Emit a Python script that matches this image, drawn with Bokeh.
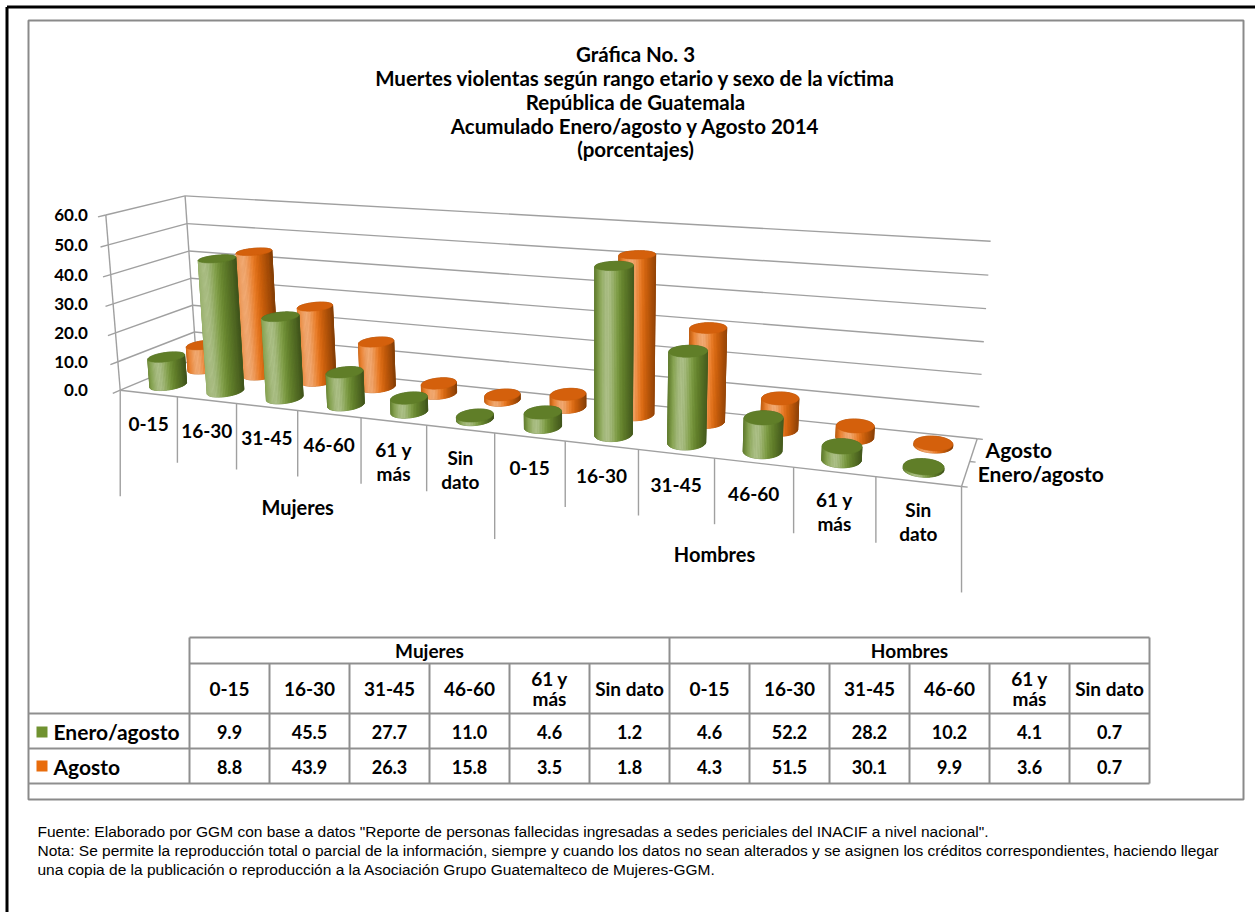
import numpy as np
from bokeh.plotting import figure
from bokeh.models import Range1d, ColumnDataSource
from bokeh.core.properties import value
from bokeh.embed import file_html
from bokeh.resources import INLINE

# ---------------------------------------------------------------- data
groups = ["Mujeres", "Hombres"]
age_ranges = ["0-15", "16-30", "31-45", "46-60", "61 y más", "Sin dato"]
axis_age_labels = [["0-15"], ["16-30"], ["31-45"], ["46-60"], ["61 y", "más"], ["Sin", "dato"]]
table_age_labels = [["0-15"], ["16-30"], ["31-45"], ["46-60"], ["61 y", "más"], ["Sin dato"]]
series_names = ["Enero/agosto", "Agosto"]
enero_agosto = [9.9, 45.5, 27.7, 11.0, 4.6, 1.2, 4.6, 52.2, 28.2, 10.2, 4.1, 0.7]
agosto = [8.8, 43.9, 26.3, 15.8, 3.5, 1.8, 4.3, 51.5, 30.1, 9.9, 3.6, 0.7]
value_ticks = [0, 10, 20, 30, 40, 50, 60]
value_tick_labels = ["0.0", "10.0", "20.0", "30.0", "40.0", "50.0", "60.0"]
title_lines = [
    "Gráfica No. 3",
    "Muertes violentas según rango etario y sexo de la víctima",
    "República de Guatemala",
    "Acumulado Enero/agosto y Agosto 2014",
    "(porcentajes)",
]
footer_lines = [
    'Fuente: Elaborado por GGM con base a datos "Reporte de personas fallecidas ingresadas a sedes periciales del INACIF a nivel nacional".',
    "Nota: Se permite la reproducción total o parcial de la información, siempre y cuando los datos no sean alterados y se asignen los créditos correspondientes, haciendo llegar",
    "una copia de la publicación o reproducción a la Asociación Grupo Guatemalteco de Mujeres-GGM.",
]

# ---------------------------------------------------------------- style
W, H = 1255, 912
FONT = value("Lato")
GREEN = (112, 146, 48)
ORANGE = (232, 108, 12)
GREEN_TOP = (96, 126, 40)
ORANGE_TOP = (212, 96, 12)
GRID = "#a0a0a0"
TABLE_LINE = "#8f8f8f"

n_cat = len(enero_agosto)
v_max = value_ticks[-1]

# ---------------------------------------------------------------- 3-D box
# page pixels of the reference points of the box:
# (category position, value, depth 0=front..1=back)
box_refs = [
    ((0, 0, 0), (120, 389)),
    ((0, v_max, 0), (105, 214)),
    ((0, 0, 1), (195, 360)),
    ((0, v_max, 1), (185, 195)),
    ((n_cat, 0, 1), (977, 436)),
    ((n_cat, v_max, 1), (990, 242)),
    ((n_cat, 0, 0), (962, 487)),
]
front_sep_px = [177, 235, 298, 362, 427, 493, 565, 637, 713, 793, 875]
left_tick_py = [362, 333, 303, 274, 244]
right_grid_py = [405, 374, 341, 308, 275]


def _lerp_line(p0, p1, coord, along_y=False):
    if along_y:
        t = (coord - p0[1]) / (p1[1] - p0[1])
    else:
        t = (coord - p0[0]) / (p1[0] - p0[0])
    return (p0[0] + t * (p1[0] - p0[0]), p0[1] + t * (p1[1] - p0[1]))


world_pts = [w for w, _ in box_refs]
page_pts = [q for _, q in box_refs]
for k, xs in enumerate(front_sep_px, start=1):
    world_pts.append((k, 0, 0))
    page_pts.append(_lerp_line((120, 389), (962, 487), xs))
for v, ys in zip(value_ticks[1:-1], left_tick_py):
    world_pts.append((0, v, 0))
    page_pts.append(_lerp_line((120, 389), (105, 214), ys, along_y=True))
for v, ys in zip(value_ticks[1:-1], right_grid_py):
    world_pts.append((n_cat, v, 1))
    page_pts.append(_lerp_line((977, 436), (990, 242), ys, along_y=True))


def fit_camera(world, page):
    world = np.asarray(world, float)
    page = np.asarray(page, float)
    ws = np.array([1.0 / n_cat, 1.0 / v_max, 1.0])
    wn = world * ws
    mu = page.mean(axis=0)
    sc = np.sqrt(2) / np.mean(np.linalg.norm(page - mu, axis=1))
    pn = (page - mu) * sc
    rows = []
    for (X, Y, Z), (u, v) in zip(wn, pn):
        rows.append([X, Y, Z, 1, 0, 0, 0, 0, -u * X, -u * Y, -u * Z, -u])
        rows.append([0, 0, 0, 0, X, Y, Z, 1, -v * X, -v * Y, -v * Z, -v])
    _, _, vt = np.linalg.svd(np.array(rows))
    Pn = vt[-1].reshape(3, 4)
    T = np.array([[sc, 0, -sc * mu[0]], [0, sc, -sc * mu[1]], [0, 0, 1]])
    S = np.diag([ws[0], ws[1], ws[2], 1.0])
    return np.linalg.inv(T) @ Pn @ S


CAM = fit_camera(world_pts, page_pts)


def proj(X, V, Z):
    h = CAM @ np.array([X, V, Z, 1.0])
    return (h[0] / h[2], h[1] / h[2])


# ---------------------------------------------------------------- figure
p = figure(width=W, height=H, x_range=Range1d(0, W), y_range=Range1d(H, 0),
           output_backend="svg", toolbar_location=None, min_border=0,
           x_axis_location=None, y_axis_location=None)
p.grid.visible = False
p.outline_line_color = None
p.background_fill_color = "white"
p.border_fill_color = "white"


def draw_texts(xs, ys, strs, size, align="center", baseline="middle",
               style="bold", font=FONT, color="#000000"):
    src = ColumnDataSource(dict(x=list(xs), y=list(ys), t=list(strs)))
    p.text(x="x", y="y", text="t", source=src, text_font=font,
           text_font_style=style, text_font_size=size, text_align=align,
           text_baseline=baseline, text_color=color)


def seg(pairs, color, width):
    x0 = [a[0] for a, b in pairs]
    y0 = [a[1] for a, b in pairs]
    x1 = [b[0] for a, b in pairs]
    y1 = [b[1] for a, b in pairs]
    p.segment(x0=x0, y0=y0, x1=x1, y1=y1, line_color=color, line_width=width)


# page frame and chart-area border
seg([((6.5, 6.5), (W + 5, 6.5)), ((6.5, 6.5), (6.5, H + 5))], "#000000", 3)
p.quad(left=28, right=1243, top=20, bottom=799, fill_color=None,
       line_color="#8a8a8a", line_width=2)

# titles
draw_texts([635] * len(title_lines), [53, 77, 101, 125, 148], title_lines, "20.5px")

# ---------------------------------------------------------------- walls
wall = []
for v in value_ticks:
    wall.append((proj(0, v, 0), proj(0, v, 1)))          # side wall
    wall.append((proj(0, v, 1), proj(n_cat, v, 1)))      # back wall
wall.append((proj(0, 0, 1), proj(0, v_max, 1)))
wall.append((proj(0, 0, 0), proj(0, v_max, 0)))          # value axis
for v in value_ticks:
    wall.append((proj(0, v, 0), proj(0, v, -0.09)))       # value ticks
wall.append((proj(0, 0, 0), proj(n_cat, 0, 0)))          # category axis
wall.append((proj(n_cat, 0, 0), proj(n_cat, 0, 1)))      # series axis
for z in (0, 0.5, 1):
    wall.append((proj(n_cat, 0, z), proj(n_cat + 0.07, 0, z)))
seg(wall, GRID, 1.4)

# category dividers hanging under the front edge
div = []
for k in range(n_cat + 1):
    x0, y0 = proj(k, 0, 0)
    length = 106 if k % 6 == 0 else 66
    div.append(((x0, y0), (x0, y0 + length)))
seg(div, GRID, 1.4)

# value labels
lab_right = proj(0, v_max, 0)[0] - 18
draw_texts([lab_right] * len(value_ticks), [proj(0, v, 0)[1] for v in value_ticks],
           value_tick_labels, "17px", align="right")

# category labels
cx_, cy_, ct_ = [], [], []
for j in range(n_cat):
    lines = axis_age_labels[j % 6]
    bx, by = proj(j + 0.5, 0, 0)
    first = by + (31 if len(lines) == 1 else 28)
    for i, s in enumerate(lines):
        cx_.append(bx)
        cy_.append(first + 24 * i)
        ct_.append(s)
draw_texts(cx_, cy_, ct_, "19px")

# group labels
gx, gy = [], []
for g in range(len(groups)):
    bx, by = proj(6 * g + 3, 0, 0)
    gx.append(bx)
    gy.append(by + 96)
draw_texts(gx, gy, groups, "20px")

# series labels on the depth axis
sx, sy = [], []
for z in (0.75, 0.25):
    bx, by = proj(n_cat, 0, z)
    sx.append(bx + 12)
    sy.append(by)
draw_texts(sx, sy, [series_names[1], series_names[0]], "21px", align="left")

# ---------------------------------------------------------------- cylinders
RX, RZ = 0.24, 0.16
N_SEG = 72
angles = np.linspace(0, 2 * np.pi, N_SEG + 1)


def hexc(c):
    return "#%02x%02x%02x" % tuple(int(round(min(255, max(0, x)))) for x in c)


def mix(c1, c2, a):
    return tuple(c1[i] * (1 - a) + c2[i] * a for i in range(3))


def body_color(base, f):
    hl = 0.42 * np.exp(-((f - 0.33) / 0.22) ** 2)
    dk = 0.42 * max(0.0, (f - 0.55) / 0.45) ** 1.3 + 0.18 * max(0.0, (0.12 - f) / 0.12)
    return hexc(mix(mix(base, (255, 255, 255), hl), (0, 0, 0), dk))


def convex_hull(pts):
    pts = sorted(set(pts))
    if len(pts) < 3:
        return pts

    def cross(o, a, b):
        return (a[0] - o[0]) * (b[1] - o[1]) - (a[1] - o[1]) * (b[0] - o[0])
    lower, upper = [], []
    for q in pts:
        while len(lower) >= 2 and cross(lower[-2], lower[-1], q) <= 0:
            lower.pop()
        lower.append(q)
    for q in reversed(pts):
        while len(upper) >= 2 and cross(upper[-2], upper[-1], q) <= 0:
            upper.pop()
        upper.append(q)
    return lower[:-1] + upper[:-1]


poly_x, poly_y, poly_c = [], [], []


def add_poly(pts, color):
    poly_x.append([q[0] for q in pts])
    poly_y.append([q[1] for q in pts])
    poly_c.append(color)


def cylinder(cx, cz, h, base, top):
    bot = [proj(cx + RX * np.cos(t), 0, cz + RZ * np.sin(t)) for t in angles]
    tp = [proj(cx + RX * np.cos(t), h, cz + RZ * np.sin(t)) for t in angles]
    hull = convex_hull([(round(a, 3), round(b, 3)) for a, b in bot + tp])
    xmin = min(q[0] for q in hull)
    xmax = max(q[0] for q in hull)
    add_poly(hull, body_color(base, 0.9))
    # facing strips share the winding of the strip nearest the viewer
    areas = []
    for i in range(N_SEG):
        quad = [bot[i], bot[i + 1], tp[i + 1], tp[i]]
        a = 0.0
        for k in range(4):
            x1, y1 = quad[k]
            x2, y2 = quad[(k + 1) % 4]
            a += x1 * y2 - x2 * y1
        areas.append(a)
    i_front = int(np.argmax([bot[i][1] + bot[i + 1][1] for i in range(N_SEG)]))
    sign = np.sign(areas[i_front])
    for i in range(N_SEG):
        if np.sign(areas[i]) != sign:
            continue
        quad = [bot[i], bot[i + 1], tp[i + 1], tp[i]]
        mx = 0.5 * (bot[i][0] + bot[i + 1][0])
        f = (mx - xmin) / max(1e-6, xmax - xmin)
        add_poly(quad, body_color(base, f))
    add_poly(tp[:-1], hexc(top))


# back row first, then the front row
for j, v in enumerate(agosto):
    cylinder(j + 0.5, 0.75, v, ORANGE, ORANGE_TOP)
for j, v in enumerate(enero_agosto):
    cylinder(j + 0.5, 0.25, v, GREEN, GREEN_TOP)

p.patches(xs="xs", ys="ys", source=ColumnDataSource(dict(xs=poly_x, ys=poly_y, c=poly_c)),
          fill_color="c", line_color="c", line_width=0.6)

# ---------------------------------------------------------------- data table
T_LEFT, T_KEY, COL_W = 28, 189, 80
T_RIGHT = T_KEY + COL_W * n_cat
ROW_Y = [637, 663, 713, 748, 783]
tl = []
tl.append(((T_KEY, ROW_Y[0]), (T_RIGHT, ROW_Y[0])))
tl.append(((T_KEY, ROW_Y[1]), (T_RIGHT, ROW_Y[1])))
for y in ROW_Y[2:]:
    tl.append(((T_LEFT, y), (T_RIGHT, y)))
tl.append(((T_KEY, ROW_Y[0]), (T_KEY, ROW_Y[-1])))
tl.append(((T_RIGHT, ROW_Y[0]), (T_RIGHT, ROW_Y[-1])))
for c in range(1, n_cat):
    y_top = ROW_Y[0] if c % 6 == 0 else ROW_Y[1]
    tl.append(((T_KEY + COL_W * c, y_top), (T_KEY + COL_W * c, ROW_Y[-1])))
seg(tl, TABLE_LINE, 2)

draw_texts([T_KEY + COL_W * (6 * g + 3) for g in range(len(groups))],
           [650] * len(groups), groups, "19px")
hx, hy, ht = [], [], []
for j in range(n_cat):
    lines = table_age_labels[j % 6]
    xc = T_KEY + COL_W * (j + 0.5)
    if len(lines) == 1:
        hx.append(xc); hy.append(688); ht.append(lines[0])
    else:
        for i, s in enumerate(lines):
            hx.append(xc); hy.append(678 + 20 * i); ht.append(s)
draw_texts(hx, hy, ht, "19px")

for vals, yc in ((enero_agosto, 731), (agosto, 766)):
    draw_texts([T_KEY + COL_W * (j + 0.5) for j in range(n_cat)], [yc] * n_cat,
               ["%.1f" % v for v in vals], "18px")

p.quad(left=[36, 36], right=[47, 47], top=[726, 760], bottom=[737, 771],
       fill_color=[hexc(GREEN), hexc(ORANGE)], line_color=None)
draw_texts([53, 53], [731, 766], series_names, "21px", align="left")

# ---------------------------------------------------------------- notes
draw_texts([37] * 3, [831, 850, 869], footer_lines, "15.5px", align="left",
           style="normal", font=value("Liberation Sans"))

open("out.html", "w").write(file_html(p, INLINE))
